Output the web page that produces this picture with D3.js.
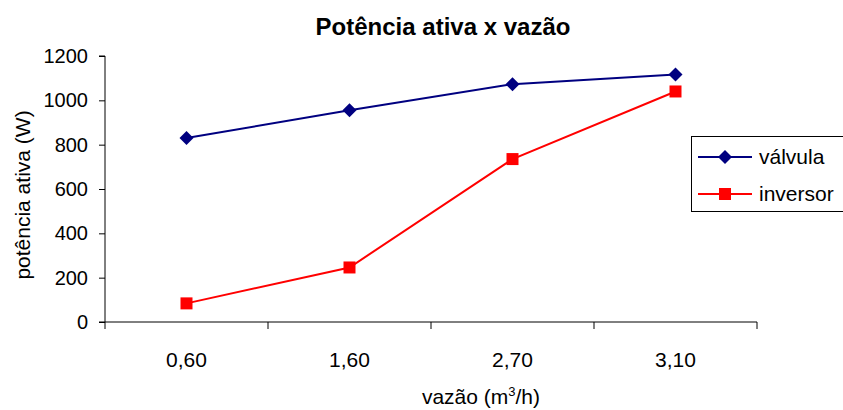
<!DOCTYPE html>
<html><head><meta charset="utf-8">
<script src="https://cdn.jsdelivr.net/npm/d3@7"></script>
<style>
html,body{margin:0;padding:0;background:#fff;}
text{font-family:"Liberation Sans",Arial,sans-serif;fill:#000;}
</style></head>
<body>
<svg id="c" width="843" height="410"></svg>
<script>
const categories = ["0,60","1,60","2,70","3,10"];
const valvula = [830, 955, 1073, 1117];
const inversor = [84, 246, 735, 1040];
const yTicks = [0,200,400,600,800,1000,1200];
const seriesNames = ["válvula","inversor"];

const svg = d3.select("#c");
const L=105, R=757, T=56, B=322;
const x = d3.scaleBand().domain(categories).range([L,R]);
const y = d3.scaleLinear().domain([0,1200]).range([B,T]);

// Title
svg.append("text").attr("x",443).attr("y",35).attr("text-anchor","middle")
  .style("font-size","24px").style("font-weight","bold").text("Potência ativa x vazão");

// Y axis
const ya = svg.append("g").attr("transform",`translate(${L},0)`)
  .call(d3.axisLeft(y).tickValues(yTicks).tickSize(6).tickPadding(11).tickFormat(d3.format("d")));
ya.select(".domain").attr("stroke","#000").attr("d",`M-6,${B}H0V${T}H-6`);
ya.selectAll("line").attr("stroke","#000");
ya.selectAll("text").style("font-size","20px").style("font-family","Liberation Sans, Arial, sans-serif").attr("fill","#000");

// X axis
const xa = svg.append("g").attr("transform",`translate(0,${B})`);
xa.append("line").attr("x1",L).attr("x2",R).attr("y1",0).attr("y2",0).attr("stroke","#000");
const bounds = categories.map(c=>x(c)).concat([R]);
xa.selectAll("line.tk").data(bounds).enter().append("line").attr("class","tk")
  .attr("x1",d=>d).attr("x2",d=>d).attr("y1",0).attr("y2",7).attr("stroke","#000");
xa.selectAll("text.lb").data(categories).enter().append("text").attr("class","lb")
  .attr("x",d=>x(d)+x.bandwidth()/2).attr("y",45).attr("text-anchor","middle")
  .style("font-size","21px").text(d=>d);

// Axis titles
svg.append("text").attr("transform","translate(30,195) rotate(-90)").attr("text-anchor","middle")
  .style("font-size","21px").text("potência ativa (W)");
const xt = svg.append("text").attr("x",481).attr("y",404).attr("text-anchor","middle").style("font-size","21px");
xt.append("tspan").text("vazão (m");
xt.append("tspan").attr("dy",-8).style("font-size","13px").text("3");
xt.append("tspan").attr("dy",8).text("/h)");

const cx = d=>x(d)+x.bandwidth()/2;
const line = d3.line().x((d,i)=>cx(categories[i])).y(d=>y(d));

const dia = "M0,-7L7,0L0,7L-7,0Z";
const sq = "M-6,-6H6V6H-6Z";

function drawSeries(vals,color,sym){
  svg.append("path").datum(vals).attr("d",line).attr("fill","none").attr("stroke",color).attr("stroke-width",2);
  svg.selectAll(null).data(vals).enter().append("path")
    .attr("transform",(d,i)=>`translate(${cx(categories[i])},${y(d)})`)
    .attr("d",sym).attr("fill",color);
}
drawSeries(valvula,"#000080",dia);
drawSeries(inversor,"#FF0000",sq);

// Legend
const lg = svg.append("g");
lg.append("rect").attr("x",691.5).attr("y",136.5).attr("width",170).attr("height",75)
  .attr("fill","#fff").attr("stroke","#000").attr("stroke-width",1);
const items = [{n:seriesNames[0],c:"#000080",s:dia,y:157},{n:seriesNames[1],c:"#FF0000",s:sq,y:194}];
items.forEach(it=>{
  lg.append("line").attr("x1",698).attr("x2",752).attr("y1",it.y).attr("y2",it.y).attr("stroke",it.c).attr("stroke-width",2);
  lg.append("path").attr("transform",`translate(725,${it.y})`).attr("d",it.s).attr("fill",it.c);
  lg.append("text").attr("x",759).attr("y",it.y+7).style("font-size","21px").text(it.n);
});
</script>
</body></html>
